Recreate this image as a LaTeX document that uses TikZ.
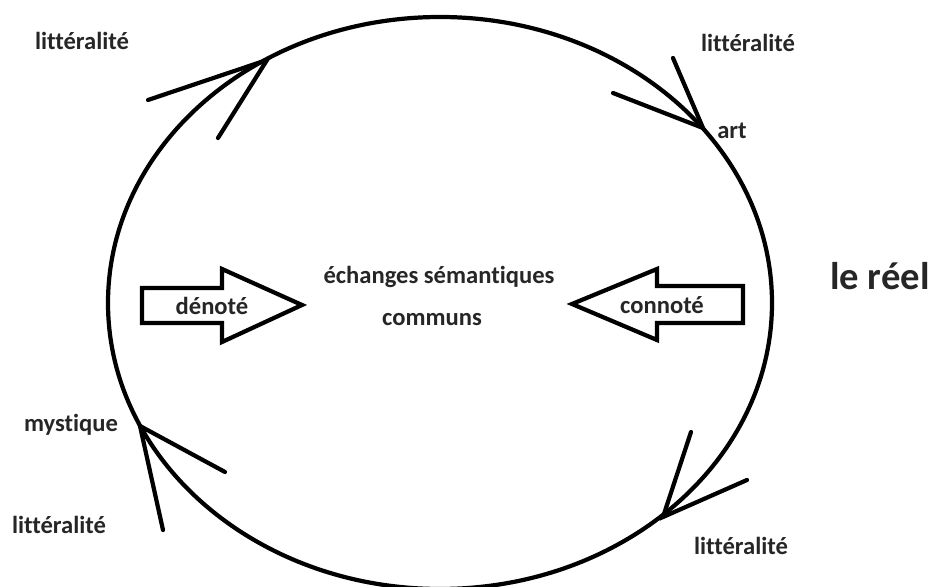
\documentclass[tikz,border=0pt]{standalone}
\usepackage{fontspec}
\setmainfont[Ligatures=NoCommon]{Carlito}

\begin{document}
\begin{tikzpicture}[x=0.02cm, y=-0.02cm, line width=2.4pt,
  lbl/.style={font=\fontsize{14}{16}\selectfont\bfseries, text=black!85, inner sep=0pt},
  barb/.style={line cap=round},
  fatarrow/.style={fill=white, line join=miter}]
  \useasboundingbox (0,0) rectangle (934,587);
  % the ring
  \draw (440,303) ellipse (332 and 286);
  % heads sitting on the ring (clockwise)
  \coordinate (tipTL) at (267,60);
  \coordinate (tipTR) at (703,128);
  \coordinate (tipBR) at (663,517);
  \coordinate (tipBL) at (140,426);
  \coordinate (tl1) at (148,100);
  \coordinate (tl2) at (218,138);
  \coordinate (tr1) at (673,58);
  \coordinate (tr2) at (613,93);
  \coordinate (br1) at (691,432);
  \coordinate (br2) at (747,480);
  \coordinate (bl1) at (225,472);
  \coordinate (bl2) at (163,530);
  \draw[barb] (tl1) -- (tipTL) -- (tl2);
  \draw[barb] (tr1) -- (tipTR) -- (tr2);
  \draw[barb] (br1) -- (tipBR) -- (br2);
  \draw[barb] (bl1) -- (tipBL) -- (bl2);
  % the two fat arrows
  \draw[fatarrow] (142,288) -- (222,288) -- (222,269) -- (302,305) -- (222,342) -- (222,323) -- (142,323) -- cycle;
  \draw[fatarrow] (743,286) -- (657,286) -- (657,269) -- (572,304) -- (657,340) -- (657,323) -- (743,323) -- cycle;
  \node[lbl] (den) at (212,306) {dénoté};
  \node[lbl] (con) at (662,305) {connoté};
  % texts
  \node[lbl] (ech) at (439,277) {échanges sémantiques};
  \node[lbl] (com) at (432,320) {communs};
  \node[lbl] (litTL) at (82,41) {littéralité};
  \node[lbl] (litTR) at (748,43) {littéralité};
  \node[lbl] (art) at (732,131) {art};
  \node[lbl] (mys) at (71,425) {mystique};
  \node[lbl] (litBL) at (59,525) {littéralité};
  \node[lbl] (litBR) at (741,546) {littéralité};
  \node[lbl, font=\fontsize{22}{26}\selectfont\bfseries] (reel) at (880,276) {le réel};
\end{tikzpicture}
\end{document}
